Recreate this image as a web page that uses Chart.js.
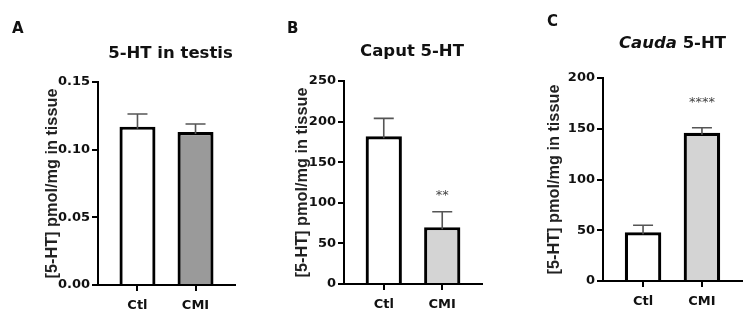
<!DOCTYPE html>
<html>
<head>
<meta charset="utf-8">
<script src="https://cdn.jsdelivr.net/npm/chart.js@4/dist/chart.umd.min.js"></script>
<style>
  body { margin: 0; background: #fff; }
  #wrap { position: relative; width: 750px; height: 320px; overflow: hidden; }
  canvas { position: absolute; top: 0; }
</style>
</head>
<body>
<div id="wrap">
  <canvas id="chartA" width="250" height="320" style="left:0"></canvas>
  <canvas id="chartB" width="250" height="320" style="left:250px"></canvas>
  <canvas id="chartC" width="250" height="320" style="left:500px"></canvas>
</div>
<script>
// groups
const groups = ['Ctl', 'CMI'];

// A - 5-HT in testis
const testisMean = [0.117, 0.113];
const testisSem = [0.0094, 0.006];
const testisTicks = [0, 0.05, 0.10, 0.15];

// B - caput
const caputMean = [182, 70];
const caputSem = [22, 19];
const caputTicks = [0, 50, 100, 150, 200, 250];
const caputStars = ['', '**'];
const caputStarY = [null, 112];

// C - cauda
const caudaMean = [48, 146];
const caudaSem = [7, 5];
const caudaTicks = [0, 50, 100, 150, 200];
const caudaStars = ['', '****'];
const caudaStarY = [null, 179];

const yTitle = '[5-HT] pmol/mg in tissue';
const tickFont = { family: 'DejaVu Sans', size: 13, weight: 'bold' };

// error bars, stars, panel letter and title
const panelPlugin = {
  id: 'panel',
  afterDatasetsDraw(chart, args, o) {
    const ctx = chart.ctx;
    const y = chart.scales.y;
    const bars = chart.getDatasetMeta(0).data;
    ctx.save();
    ctx.strokeStyle = '#555';
    ctx.lineWidth = 1.6;
    bars.forEach((bar, i) => {
      const yTop = y.getPixelForValue(o.mean[i] + o.sem[i]);
      const yBar = y.getPixelForValue(o.mean[i]) + 2;
      ctx.beginPath();
      ctx.moveTo(bar.x, yBar);
      ctx.lineTo(bar.x, yTop);
      ctx.moveTo(bar.x - 10, yTop);
      ctx.lineTo(bar.x + 10, yTop);
      ctx.stroke();
      if (o.stars && o.stars[i]) {
        ctx.fillStyle = '#444';
        ctx.font = '13px "DejaVu Sans"';
        ctx.textAlign = 'center';
        ctx.textBaseline = 'middle';
        ctx.fillText(o.stars[i], bar.x, y.getPixelForValue(o.starY[i]) + 3);
      }
    });
    ctx.restore();
  },
  afterDraw(chart, args, o) {
    const ctx = chart.ctx;
    const area = chart.chartArea;
    ctx.save();
    ctx.fillStyle = '#111';
    ctx.textBaseline = 'alphabetic';
    ctx.textAlign = 'left';
    ctx.font = 'bold 15px "DejaVu Sans"';
    ctx.fillText(o.letter, o.letterX, o.letterY);
    // title, possibly with an italic first part
    const parts = o.title;
    const fonts = parts.map(p => (p.italic ? 'italic ' : '') + 'bold 16.5px "DejaVu Sans"');
    let total = 0;
    parts.forEach((p, i) => { ctx.font = fonts[i]; total += ctx.measureText(p.text).width; });
    let x = (area.left + area.right) / 2 - total / 2 + (o.titleDx || 0);
    parts.forEach((p, i) => {
      ctx.font = fonts[i];
      ctx.fillText(p.text, x, o.titleY);
      x += ctx.measureText(p.text).width;
    });
    ctx.restore();
  }
};

function makePanel(id, mean, sem, ticks, fill, box, extra) {
  const yMax = ticks[ticks.length - 1];
  return new Chart(document.getElementById(id), {
    type: 'bar',
    data: {
      datasets: [{
        data: groups.map((g, i) => ({ x: i, y: mean[i] })),
        backgroundColor: fill,
        borderColor: '#000',
        borderWidth: 3.2,
        borderSkipped: 'bottom',
        barPercentage: 0.62,
        categoryPercentage: 1
      }]
    },
    options: {
      responsive: false,
      animation: false,
      layout: { padding: { left: 0, top: box.top, right: 250 - box.right, bottom: 0 } },
      plugins: {
        legend: { display: false },
        tooltip: { enabled: false },
        panel: Object.assign({ mean: mean, sem: sem }, extra)
      },
      scales: {
        x: {
          type: 'linear',
          offset: false,
          min: -0.68,
          max: 1.68,
          afterBuildTicks: s => { s.ticks = groups.map((g, i) => ({ value: i })); },
          afterFit: s => { s.height = 320 - box.bottom; },
          ticks: {
            callback: v => groups[v],
            color: '#111',
            font: tickFont,
            padding: 7,
            maxRotation: 0
          },
          grid: { display: true, offset: false, drawOnChartArea: false, drawTicks: true, tickLength: 6, color: '#000', lineWidth: 2 },
          border: { display: true, color: '#000', width: 2 }
        },
        y: {
          min: 0,
          max: yMax,
          afterBuildTicks: s => { s.ticks = ticks.map(v => ({ value: v })); },
          afterFit: s => { s.width = box.left; },
          ticks: {
            callback: v => (yMax < 1 ? v.toFixed(2) : String(v)),
            color: '#111',
            font: tickFont,
            padding: 2
          },
          title: {
            display: true,
            text: yTitle,
            color: '#222',
            font: { family: 'Liberation Sans', size: 16.3, weight: 'bold' },
            padding: { top: box.titleX - 9, bottom: 0 }
          },
          grid: { display: true, drawOnChartArea: false, drawTicks: true, tickLength: 6, color: '#000', lineWidth: 2 },
          border: { display: true, color: '#000', width: 2 }
        }
      }
    },
    plugins: [panelPlugin]
  });
}

makePanel('chartA', testisMean, testisSem, testisTicks, ['#ffffff', '#9a9a9a'],
  { left: 98, top: 82, right: 235, bottom: 285, titleX: 52 },
  { letter: 'A', letterX: 12, letterY: 33, titleY: 58, titleDx: 4, title: [{ text: '5-HT in testis' }] });

makePanel('chartB', caputMean, caputSem, caputTicks, ['#ffffff', '#d4d4d4'],
  { left: 94, top: 81, right: 232, bottom: 284, titleX: 52 },
  { letter: 'B', letterX: 37, letterY: 33, titleY: 56, titleDx: -1, title: [{ text: 'Caput 5-HT' }],
    stars: caputStars, starY: caputStarY });

makePanel('chartC', caudaMean, caudaSem, caudaTicks, ['#ffffff', '#d4d4d4'],
  { left: 103, top: 78, right: 242, bottom: 281, titleX: 54 },
  { letter: 'C', letterX: 47, letterY: 26, titleY: 48, titleDx: 0, title: [{ text: 'Cauda', italic: true }, { text: ' 5-HT' }],
    stars: caudaStars, starY: caudaStarY });
</script>
</body>
</html>
